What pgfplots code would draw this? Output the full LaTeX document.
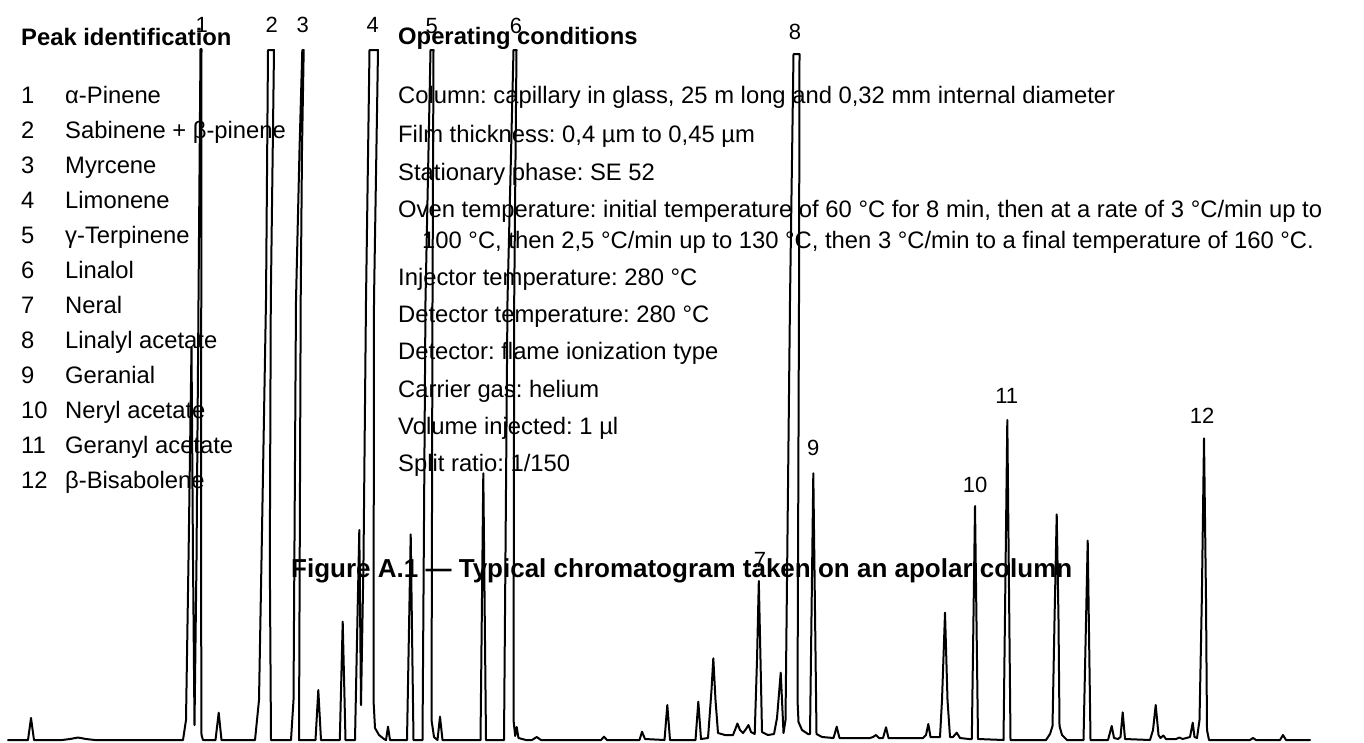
\documentclass[border=0pt]{standalone}
\usepackage{fontspec}
\setmainfont{Liberation Sans}
\usepackage{pgfplots}
\pgfplotsset{compat=1.18}
\frenchspacing
\begin{document}
\begin{tikzpicture}
\begin{axis}[
  scale only axis, width=1364pt, height=742pt,
  xmin=0, xmax=1364, ymin=0, ymax=742, y dir=reverse,
  hide axis, clip=false,
]
\addplot[black, line width=2pt, line join=round, line cap=round] coordinates {
(8,740)(28,740)(31,718)(34,740)(62,740)(70,739)(78,737.5)(86,739)(95,740)
(183,740)(186,720)(188.5,560)(191.5,347)(193,560)(194.5,725)(196.5,560)(198.5,300)(200.5,49)(201.5,49)(201,560)(201.5,735)(203,740)
(215.5,740)(218.7,712.7)(221.5,740)
(255,740)(259,700)(261.5,560)(266,300)(268,50)(274,50)(270.8,300)(269.8,560)(271,740)
(291,740)(293.5,700)(296,300)(299.5,150)(302.3,50)(303.7,50)(302,150)(300.7,300)(299,740)
(315.5,740)(318.3,690)(321,740)
(339.8,740)(342.7,621.7)(345.5,740)
(355,740)(357,640)(359.3,530)(361,705)(363.5,560)(366,300)(369.5,50)(378,50)(374,300)(373.5,700)(375,728)(379,735)(384,739)(386,740)(388,726.7)(390,740)
(407,740)(410.7,534.3)(413.5,740)
(422.5,740)(425.5,300)(430.5,50)(433.5,50)(432.5,300)(431.5,720)(434,737)(437.5,740)(440,716.7)(442.5,740)
(480.5,740)(483.3,473.3)(486,740)
(504,740)(507.5,300)(513.5,50)(516.5,50)(514.2,300)(513.5,720)(515.2,736)(516.7,727)(518.5,738)(526,740)
(532,740)(536.7,737)(541,740)
(601,740)(604,736.7)(607,740)
(639.5,740)(642,731.7)(645,739)
(664.5,740)(667.3,705)(670,740)
(695.5,740)(698.3,701.7)(701,739)
(708,738)(711.5,690)(713.3,658.3)(715.5,700)(718,733)(725,735)(733,735)
(735,730)(737.4,723.5)(740,730)(743,733)(746,729)(748.5,725)(751,732)(754.7,734)
(757,660)(758.8,581)(760.5,660)(762,732)(768,735)(774,734)(777,718)(780.7,672.7)(782,700)(783.5,733)
(785.5,720)(790,300)(793.5,54)(799.5,54)(799,300)(797.5,700)(798.5,722)(802,730)(808,734)
(810,734)(813.3,473.3)(816.5,734)
(822,737)(833.5,738)(836.7,726.7)(839.5,738)(870,738)(873,737)(876,735)(879,738)(883,738)(886,727.3)(888.5,738)
(923,738)(926,735)(928.3,724)(930.5,737)(940,737)(942,700)(945,612.7)(947.5,700)(950,737)(953,737)(956.7,732.7)(960,738)(969,739)
(971.8,739)(975,506)(978,739)
(1003.5,740)(1007.3,420)(1010.5,740)
(1046,740)(1050,734)(1052.5,726)(1054.5,620)(1056.7,514.3)(1058.5,620)(1059.5,726)(1062,735)(1067,740)
(1083.5,740)(1087.7,540.7)(1090.5,740)
(1108,740)(1111.7,726)(1114,738)(1118,739)(1120.5,737)(1122.7,712.3)(1125,739)
(1150,740)(1153,730)(1155.7,705)(1158.5,735)(1160.5,738)(1163.3,735.5)(1166,739)
(1176,739)(1179.5,737.5)(1182.5,739)(1190,737)(1192.7,722.7)(1194.5,737)(1197,738)
(1199.5,720)(1201.8,600)(1204,438.3)(1206,600)(1207,730)(1209,740)
(1250,740)(1253,738)(1256,740)(1280,740)(1283,735)(1286,740)(1310,740)
};
% peak numbers
\begin{scope}[every node/.style={font=\fontsize{22}{26}\selectfont, anchor=base, inner sep=0pt}]
\node at (axis cs:201.7,32) {1};
\node at (axis cs:271.7,32) {2};
\node at (axis cs:302.7,32) {3};
\node at (axis cs:372.7,32) {4};
\node at (axis cs:431.7,33) {5};
\node at (axis cs:516,33) {6};
\node at (axis cs:760,567) {7};
\node at (axis cs:795,39) {8};
\node at (axis cs:813.3,455) {9};
\node at (axis cs:975,492) {10};
\node at (axis cs:1006.7,403) {11};
\node at (axis cs:1202,423) {12};
\end{scope}
% peak identification
\begin{scope}[every node/.style={font=\fontsize{23.8}{28}\selectfont, anchor=base west, inner sep=0pt}]
\node[font=\fontsize{23.8}{28}\selectfont\bfseries] at (axis cs:21,45) {Peak identification};
\node at (axis cs:21,103) {1};  \node at (axis cs:65,103) {α-Pinene};
\node at (axis cs:21,138) {2};  \node at (axis cs:65,138) {Sabinene + β-pinene};
\node at (axis cs:21,173) {3};  \node at (axis cs:65,173) {Myrcene};
\node at (axis cs:21,208) {4};  \node at (axis cs:65,208) {Limonene};
\node at (axis cs:21,243) {5};  \node at (axis cs:65,243) {γ-Terpinene};
\node at (axis cs:21,278) {6};  \node at (axis cs:65,278) {Linalol};
\node at (axis cs:21,313) {7};  \node at (axis cs:65,313) {Neral};
\node at (axis cs:21,348) {8};  \node at (axis cs:65,348) {Linalyl acetate};
\node at (axis cs:21,383) {9};  \node at (axis cs:65,383) {Geranial};
\node at (axis cs:21,418) {10}; \node at (axis cs:65,418) {Neryl acetate};
\node at (axis cs:21,453) {11}; \node at (axis cs:65,453) {Geranyl acetate};
\node at (axis cs:21,488) {12}; \node at (axis cs:65,488) {β-Bisabolene};
% operating conditions
\node[font=\fontsize{23.8}{28}\selectfont\bfseries] at (axis cs:398,44) {Operating conditions};
\node at (axis cs:398,103) {Column: capillary in glass, 25 m long and 0,32 mm internal diameter};
\node at (axis cs:398,142) {Film thickness: 0,4 µm to 0,45 µm};
\node at (axis cs:398,180) {Stationary phase: SE 52};
\node at (axis cs:398,217) {Oven temperature: initial temperature of 60 °C for 8 min, then at a rate of 3 °C/min up to};
\node at (axis cs:422,248) {100 °C, then 2,5 °C/min up to 130 °C, then 3 °C/min to a final temperature of 160 °C.};
\node at (axis cs:398,285) {Injector temperature: 280 °C};
\node at (axis cs:398,322) {Detector temperature: 280 °C};
\node at (axis cs:398,359) {Detector: flame ionization type};
\node at (axis cs:398,397) {Carrier gas: helium};
\node at (axis cs:398,434) {Volume injected: 1 µl};
\node at (axis cs:398,471) {Split ratio: 1/150};
% caption
\node[font=\fontsize{26}{30}\selectfont\bfseries] at (axis cs:291,577) {Figure A.1 — Typical chromatogram taken on an apolar column};
\end{scope}
\end{axis}
\pgfresetboundingbox
\path (current axis.south west) rectangle (current axis.north east);
\end{tikzpicture}
\end{document}
